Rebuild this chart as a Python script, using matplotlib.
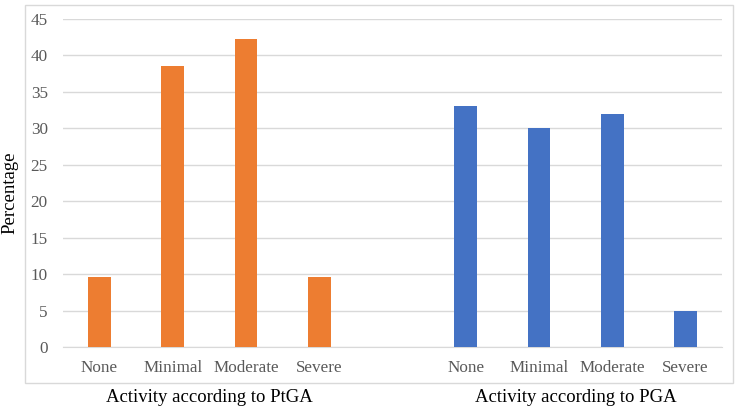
#!/usr/bin/env python3
"""Disease activity distribution by PtGA and PGA."""

import matplotlib.pyplot as plt
from matplotlib.patches import Rectangle

levels = ["None", "Minimal", "Moderate", "Severe"]
groups = ["Activity according to PtGA", "Activity according to PGA"]
ptga = [9.6, 38.5, 42.3, 9.6]
pga = [33.0, 30.1, 32.0, 4.9]
colors = ["#ED7D31", "#4472C4"]

plt.rcParams.update({
    "font.family": ["Liberation Serif", "DejaVu Serif"],
})

W, H = 740, 413
fig = plt.figure(figsize=(W / 100, H / 100), dpi=100)
ax = fig.add_axes([63 / W, 66 / H, 659 / W, 328 / H])

# chart-area border
fig.patches.append(Rectangle((25 / W, 30 / H), 708 / W, 378 / H,
                             transform=fig.transFigure, fill=False,
                             edgecolor="#D9D9D9", linewidth=1.0))

ticks, labels = [], []
for g, (vals, col) in enumerate(zip((ptga, pga), colors)):
    x = [g * (len(levels) + 1) + i for i in range(len(levels))]
    ax.bar(x, vals, width=0.31, color=col, zorder=3)
    ticks += x
    labels += levels
    ax.text(sum(x) / len(x), -0.155, groups[g], transform=ax.get_xaxis_transform(),
            ha="center", va="center", fontsize=13.5, color="black")

ax.set_xlim(-0.5, 2 * len(levels) + 0.5)
ax.set_ylim(0, 45)
ax.set_yticks(range(0, 46, 5))
ax.set_xticks(ticks, labels)
ax.tick_params(axis="both", length=0, labelsize=12.3, labelcolor="#595959")
ax.tick_params(axis="x", pad=9.5)
ax.tick_params(axis="y", pad=11)
ax.grid(axis="y", color="#D9D9D9", linewidth=1.0, zorder=0)
for side in ("left", "right", "top"):
    ax.spines[side].set_visible(False)
ax.spines["bottom"].set_color("#D9D9D9")

fig.text(10 / W, (H - 193) / H, "Percentage", rotation=90, ha="center",
         va="center", fontsize=13.5, color="black")

fig.savefig("out.png", dpi=100)
